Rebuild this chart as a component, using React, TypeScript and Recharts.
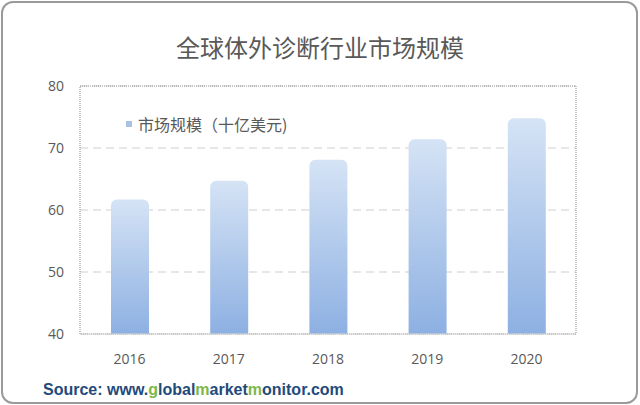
import React from 'react';
import { BarChart, Bar, XAxis, YAxis, CartesianGrid, ReferenceArea } from 'recharts';

const years = ['2016', '2017', '2018', '2019', '2020'];
const marketSize = [61.7, 64.7, 68.1, 71.4, 74.8];
const yTicks = [40, 50, 60, 70, 80];
const seriesName = '市场规模（十亿美元)';

const data = years.map((year, i) => ({ year, value: marketSize[i] }));

const cjk = '"Noto Sans CJK SC", "Noto Sans", sans-serif';
const blue = '#1f4b7b';
const green = '#7cb749';

const App: React.FC = () => {
  return (
    <div
      style={{
        position: 'fixed',
        left: 0,
        top: 0,
        width: 640,
        height: 405,
        background: '#fff',
      }}
    >
      <div
        style={{
          position: 'absolute',
          left: 1,
          top: 1,
          width: 633,
          height: 399,
          border: '2px solid #9a9a9a',
          borderRadius: 12,
        }}
      />
      <div
        style={{
          position: 'absolute',
          left: 0,
          top: 30,
          width: 640,
          textAlign: 'center',
          fontFamily: cjk,
          fontSize: 24,
          lineHeight: '34px',
          color: '#595959',
        }}
      >
        全球体外诊断行业市场规模
      </div>
      <BarChart width={640} height={405} data={data} margin={{ top: 86, right: 64, bottom: 41, left: 20 }}>
        <defs>
          <linearGradient id="barFill" x1="0" y1="0" x2="0" y2="1">
            <stop offset="0%" stopColor="#d5e3f5" />
            <stop offset="100%" stopColor="#8db0e2" />
          </linearGradient>
        </defs>
        <CartesianGrid vertical={false} stroke="#cfcfcf" strokeDasharray="8 5" />
        <ReferenceArea y1={40} y2={80} fill="none" stroke="#8c8c8c" strokeDasharray="1 1" />
        <XAxis
          dataKey="year"
          axisLine={{ stroke: '#d9d9d9' }}
          tickLine={false}
          tickMargin={14}
          tick={{ fill: '#595959', fontSize: 14, fontFamily: '"Open Sans", sans-serif' }}
        />
        <YAxis
          width={60}
          domain={[40, 80]}
          ticks={yTicks}
          axisLine={false}
          tickLine={false}
          tickMargin={10}
          tick={{ fill: '#595959', fontSize: 14, fontFamily: '"Open Sans", sans-serif' }}
        />
        <Bar
          dataKey="value"
          name={seriesName}
          fill="url(#barFill)"
          barSize={38}
          radius={[6, 6, 0, 0]}
          isAnimationActive={false}
        />
      </BarChart>
      <div
        style={{
          position: 'absolute',
          left: 126,
          top: 112,
          display: 'flex',
          alignItems: 'center',
          fontFamily: cjk,
          fontSize: 16,
          lineHeight: '24px',
          color: '#595959',
        }}
      >
        <span style={{ width: 6, height: 6, background: '#a9c1e6', marginRight: 6, display: 'inline-block' }} />
        <span>{seriesName}</span>
      </div>
      <div
        style={{
          position: 'absolute',
          left: 43,
          top: 380,
          fontFamily: 'Arial, "Liberation Sans", sans-serif',
          fontWeight: 'bold',
          fontSize: 16,
          lineHeight: '20px',
          color: blue,
        }}
      >
        Source: www.<span style={{ color: green }}>g</span>lobal<span style={{ color: green }}>m</span>arket
        <span style={{ color: green }}>m</span>onitor.com
      </div>
    </div>
  );
};

export default App;
